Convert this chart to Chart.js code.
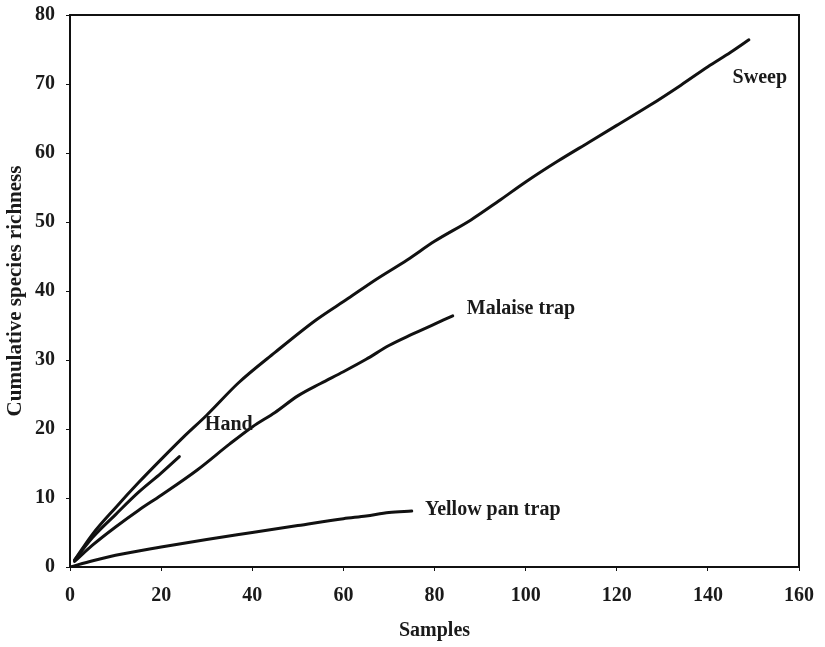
<!DOCTYPE html>
<html>
<head>
<meta charset="utf-8">
<script src="https://cdn.jsdelivr.net/npm/chart.js@4.4.1/dist/chart.umd.min.js"></script>
<style>
html,body{margin:0;padding:0;background:#fff;}
#wrap{width:825px;height:647px;position:relative;}
</style>
</head>
<body>
<div id="wrap"><canvas id="chart"></canvas></div>
<script>
// samples vs cumulative species richness
const sweepX=[1,5,10,15,20,25,30,37,45,54,61,67,74,80,88,94,100,107,114,120,127,134,140,145,149];
const sweepY=[1,4.8,8.6,12.2,15.6,18.9,22,26.7,31.1,35.8,38.9,41.6,44.5,47.2,50.3,53,55.8,58.8,61.6,64,66.8,69.8,72.5,74.6,76.4];
const handX=[1,5,10,15,20,24];
const handY=[1,4.3,7.6,10.8,13.6,16];
const malaiseX=[1,5,10,15,20,28,35,40,45,50,55,60,65,70,75,80,84];
const malaiseY=[0.8,3.2,5.8,8.2,10.4,14.1,17.8,20.3,22.4,24.8,26.6,28.3,30.1,32.1,33.7,35.2,36.4];
const panX=[0,5,10,20,30,40,50,60,65,70,75];
const panY=[0,0.9,1.7,2.9,4,5,6,7,7.4,7.9,8.1];
const xTicks=[0,20,40,60,80,100,120,140,160];
const yTicks=[0,10,20,30,40,50,60,70,80];
const seriesLabels=[
  {text:"Sweep",x:151.4,y:70.9,align:"center"},
  {text:"Malaise trap",x:87.1,y:37.4,align:"left"},
  {text:"Hand",x:29.6,y:20.6,align:"left"},
  {text:"Yellow pan trap",x:77.9,y:8.3,align:"left"}
];

const serif="'Liberation Serif','Times New Roman',serif";
const pts=(xs,ys)=>xs.map((x,i)=>({x:x,y:ys[i]}));
const lineStyle={borderColor:"#111",borderWidth:3,pointRadius:0,fill:false,cubicInterpolationMode:"monotone",borderCapStyle:"round",borderJoinStyle:"round"};

const frame={
  id:"frame",
  afterDraw(chart){
    const {ctx,chartArea:a,scales}=chart;
    ctx.save();
    ctx.strokeStyle="#111";ctx.lineWidth=2;
    ctx.strokeRect(a.left,a.top,a.right-a.left,a.bottom-a.top);
    ctx.fillStyle="#1a1a1a";ctx.font="bold 20px "+serif;ctx.textBaseline="middle";
    seriesLabels.forEach(l=>{
      ctx.textAlign=l.align;
      ctx.fillText(l.text,scales.x.getPixelForValue(l.x),scales.y.getPixelForValue(l.y));
    });
    ctx.restore();
  }
};

new Chart(document.getElementById("chart"),{
  type:"line",
  data:{datasets:[
    Object.assign({label:"Sweep",data:pts(sweepX,sweepY)},lineStyle),
    Object.assign({label:"Hand",data:pts(handX,handY)},lineStyle),
    Object.assign({label:"Malaise trap",data:pts(malaiseX,malaiseY)},lineStyle),
    Object.assign({label:"Yellow pan trap",data:pts(panX,panY)},lineStyle)
  ]},
  options:{
    responsive:true,maintainAspectRatio:false,animation:false,
    layout:{padding:{top:15,right:26,left:0,bottom:0}},
    plugins:{legend:{display:false},tooltip:{enabled:false}},
    scales:{
      x:{type:"linear",min:0,max:160,
        afterBuildTicks:s=>{s.ticks=xTicks.map(v=>({value:v}));},
        afterFit:s=>{s.height=80;s.paddingLeft=0;s.paddingRight=0;},
        grid:{drawOnChartArea:false,drawTicks:true,tickLength:4,color:"#111"},
        border:{display:true,color:"#111",width:2},
        ticks:{color:"#1a1a1a",font:{family:serif,size:20,weight:"bold"},padding:13,maxRotation:0},
        title:{display:true,text:"Samples",color:"#1a1a1a",font:{family:serif,size:20,weight:"bold"},padding:{top:0,bottom:4}}
      },
      y:{type:"linear",min:0,max:80,
        afterBuildTicks:s=>{s.ticks=yTicks.map(v=>({value:v}));},
        afterFit:s=>{s.width=70;s.paddingTop=0;s.paddingBottom=0;},
        grid:{drawOnChartArea:false,drawTicks:true,tickLength:4,color:"#111"},
        border:{display:true,color:"#111",width:2},
        ticks:{color:"#1a1a1a",font:{family:serif,size:20,weight:"bold"},padding:11},
        title:{display:true,text:"Cumulative species richness",color:"#1a1a1a",font:{family:serif,size:21,weight:"bold"},padding:{top:3,bottom:0}}
      }
    }
  },
  plugins:[frame]
});
</script>
</body>
</html>
